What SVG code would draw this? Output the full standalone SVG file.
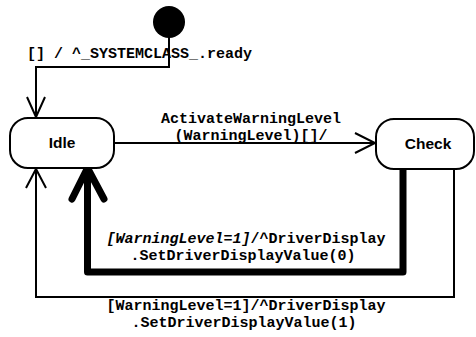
<svg xmlns="http://www.w3.org/2000/svg" width="476" height="337" viewBox="0 0 476 337">
  <style>
    .state { fill: #fff; stroke: #000; stroke-width: 2; }
    .sname { font-family: "Liberation Sans", Arial, sans-serif; font-weight: bold; font-size: 15.5px; fill: #000; text-anchor: middle; }
    .lbl { font-family: "Liberation Mono", "Courier New", monospace; font-weight: bold; font-size: 15px; fill: #000; }
    .mid { text-anchor: middle; }
    .wire { fill: none; stroke: #000; stroke-width: 2; stroke-linejoin: miter; }
    .heavy { fill: none; stroke: #000; stroke-width: 7; stroke-linejoin: round; stroke-linecap: round; }
  </style>
  <rect width="476" height="337" fill="#fff"/>

  <g id="connectors">
    <!-- initial transition -->
    <path class="wire" d="M169,36 V67 H36 V117"/>
    <path class="wire" d="M27,97 L36,117 L45,97"/>
    <text class="lbl" x="27" y="58">[] / ^_SYSTEMCLASS_.ready</text>

    <!-- Idle to Check -->
    <path class="wire" d="M114,143 H375"/>
    <path class="wire" d="M355,133 L375,143 L355,153"/>
    <text class="lbl mid" x="251" y="123">ActivateWarningLevel</text>
    <text class="lbl mid" x="251" y="140">(WarningLevel)[]/</text>

    <!-- Check back to Idle, outer loop -->
    <path class="wire" d="M454,169 V297 H36 V169"/>
    <path class="wire" d="M26,188 L36,169 L46,188"/>
    <text class="lbl mid" x="246" y="310">[WarningLevel=1]/^DriverDisplay</text>
    <text class="lbl mid" x="244" y="327">.SetDriverDisplayValue(1)</text>

    <!-- Check back to Idle, highlighted loop -->
    <path class="heavy" d="M403,170 V272 H87.5 V170"/>
    <path class="heavy" d="M72,199 L87.5,168 L104,199"/>
    <text class="lbl mid" x="246" y="243"><tspan font-style="italic">[WarningLevel=1]</tspan>/^DriverDisplay</text>
    <text class="lbl mid" x="243" y="260">.SetDriverDisplayValue(0)</text>
  </g>

  <g id="initial">
    <circle cx="169" cy="22" r="16" fill="#000"/>
  </g>

  <g id="idle">
    <rect class="state" x="10" y="118" width="104" height="50" rx="18" ry="18"/>
    <text class="sname" x="62" y="148">Idle</text>
  </g>

  <g id="check">
    <rect class="state" x="376" y="119" width="98" height="50" rx="18" ry="18"/>
    <text class="sname" x="428" y="149">Check</text>
  </g>
</svg>
